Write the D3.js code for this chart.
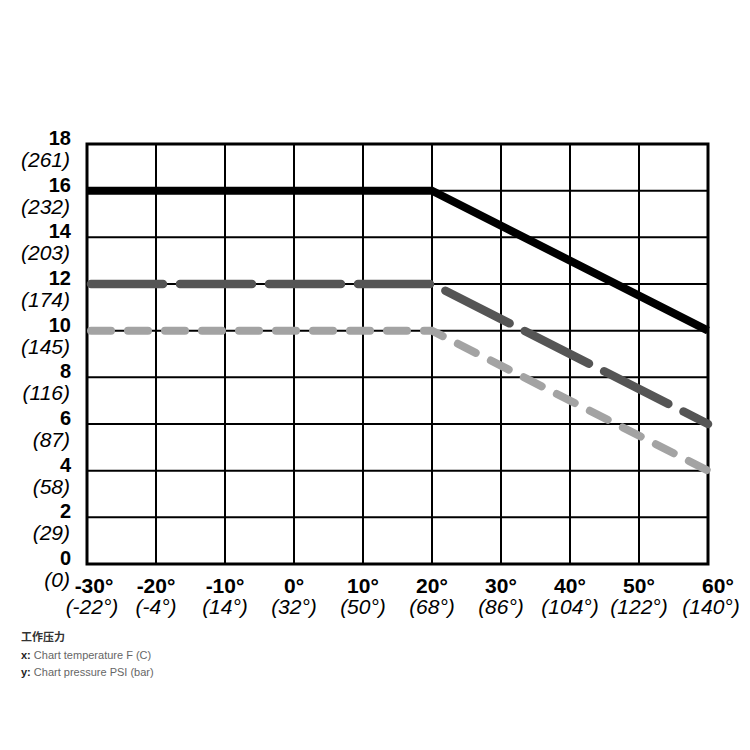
<!DOCTYPE html>
<html>
<head>
<meta charset="utf-8">
<script src="https://cdn.jsdelivr.net/npm/d3@7"></script>
<style>
  body { margin: 0; background: #fff; }
  svg { display: block; }
</style>
</head>
<body>
<svg id="chart" width="750" height="750"></svg>
<script>
// ---- data ----
const tempC = [-30, -20, -10, 0, 10, 20, 30, 40, 50, 60];
const tempF = ["(-22°)", "(-4°)", "(14°)", "(32°)", "(50°)", "(68°)", "(86°)", "(104°)", "(122°)", "(140°)"];
const pressureBar = [0, 2, 4, 6, 8, 10, 12, 14, 16, 18];
const pressurePsi = ["(0)", "(29)", "(58)", "(87)", "(116)", "(145)", "(174)", "(203)", "(232)", "(261)"];
const seriesNames = ["solid", "darkDash", "lightDash"];
const seriesTemp = [-30, 20, 60];
const seriesSolid = [16, 16, 10];
const seriesDark = [12, 12, 6];
const seriesLight = [10, 10, 4];
const captionTitle = "工作压力";
const captionX = ["x:", " Chart temperature F (C)"];
const captionY = ["y:", " Chart pressure PSI (bar)"];

const svg = d3.select("#chart");
const x = d3.scaleLinear().domain([-30, 60]).range([87, 708]);
const y = d3.scaleLinear().domain([0, 18]).range([564, 144]);

// grid
const g = svg.append("g");
g.selectAll("line.v").data(tempC).join("line")
  .attr("x1", d => x(d)).attr("x2", d => x(d))
  .attr("y1", y(18)).attr("y2", y(0))
  .attr("stroke", "#000").attr("stroke-width", 2);
g.selectAll("line.h").data(pressureBar).join("line")
  .attr("y1", d => y(d)).attr("y2", d => y(d))
  .attr("x1", x(-30)).attr("x2", x(60))
  .attr("stroke", "#000").attr("stroke-width", 2);
g.append("rect")
  .attr("x", x(-30)).attr("y", y(18))
  .attr("width", x(60) - x(-30)).attr("height", y(0) - y(18))
  .attr("fill", "none").attr("stroke", "#000").attr("stroke-width", 3);

// series
const line = d3.line().x(d => x(d[0])).y(d => y(d[1]));
const mk = vals => seriesTemp.map((t, i) => [t, vals[i]]);
svg.append("path").datum(mk(seriesLight))
  .attr("d", line).attr("fill", "none")
  .attr("stroke", "#a3a3a3").attr("stroke-width", 8)
  .attr("stroke-linecap", "round").attr("stroke-dasharray", "20,17")
  .attr("stroke-dashoffset", -4);
svg.append("path").datum(mk(seriesDark))
  .attr("d", line).attr("fill", "none")
  .attr("stroke", "#555").attr("stroke-width", 8.5)
  .attr("stroke-linecap", "round").attr("stroke-dasharray", "72,17")
  .attr("stroke-dashoffset", -4);
svg.append("path").datum(mk(seriesSolid))
  .attr("d", line).attr("fill", "none")
  .attr("stroke", "#000").attr("stroke-width", 8);

// y labels
const font = "Liberation Sans, Arial, Helvetica, sans-serif";
const yl = svg.append("g").attr("font-family", font).attr("text-anchor", "end").attr("fill", "#000");
yl.selectAll("text.b").data(pressureBar).join("text")
  .attr("x", 71).attr("y", d => y(d) + 1)
  .attr("font-size", 20).attr("font-weight", "bold")
  .text(d => d);
yl.selectAll("text.i").data(pressurePsi).join("text")
  .attr("x", 70).attr("y", (d, i) => y(pressureBar[i]) + 23)
  .attr("font-size", 21).attr("font-style", "italic")
  .text(d => d);

// x labels
const n = tempC.length;
const xl = svg.append("g").attr("font-family", font).attr("text-anchor", "middle").attr("fill", "#000");
xl.selectAll("text.b").data(tempC).join("text")
  .attr("x", (d, i) => x(d) + (i === 0 ? 7 : i === n - 1 ? 10 : 0))
  .attr("y", y(0) + 29)
  .attr("font-size", 21).attr("font-weight", "bold")
  .text(d => d + "°");
xl.selectAll("text.i").data(tempF).join("text")
  .attr("x", (d, i) => x(tempC[i]) + (i === 0 ? 5 : i === n - 1 ? 3 : 0))
  .attr("y", y(0) + 50)
  .attr("font-size", 21).attr("font-style", "italic")
  .text(d => d);

// caption
const cap = svg.append("g").attr("font-family", font);
cap.append("text").attr("x", 21).attr("y", 641)
  .attr("font-family", "Noto Sans CJK SC, sans-serif")
  .attr("font-size", 11).attr("font-weight", "bold").attr("fill", "#333")
  .text(captionTitle);
[[captionX, 659], [captionY, 676]].forEach(([parts, yy]) => {
  const t = cap.append("text").attr("x", 21).attr("y", yy).attr("font-size", 11);
  t.append("tspan").attr("font-weight", "bold").attr("fill", "#222").text(parts[0]);
  t.append("tspan").attr("fill", "#666").text(parts[1]);
});
</script>
</body>
</html>
